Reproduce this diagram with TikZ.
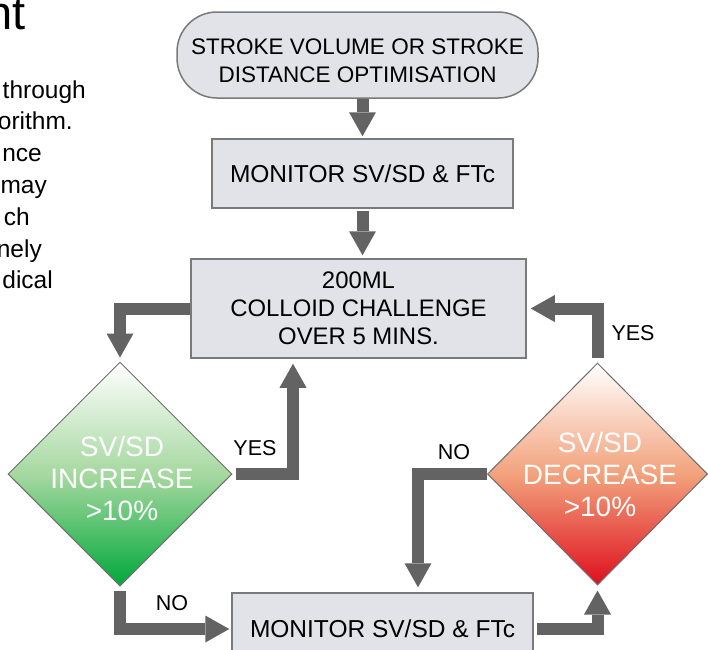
\documentclass[tikz,border=0pt]{standalone}
\usepackage{fontspec}
\setmainfont{Liberation Sans}
\usetikzlibrary{shapes.geometric,arrows.meta}
\definecolor{boxfill}{HTML}{E1E3E8}
\definecolor{boxline}{HTML}{7A7A7A}
\definecolor{diamline}{HTML}{6E6E6E}
\definecolor{arrowc}{HTML}{636363}
\definecolor{gbot}{HTML}{00A83A}
\definecolor{gmid}{HTML}{A6D8A0}
\definecolor{rbot}{HTML}{DE0F1E}
\definecolor{rmid}{HTML}{F2A27C}
\begin{document}
\begin{tikzpicture}[x=1pt,y=-1pt,
  box/.style={draw=boxline, line width=1.5pt, fill=boxfill, rectangle, inner sep=0, align=center},
  flow/.style={draw=arrowc, line width=12pt, -{Triangle[width=27pt,length=24pt,line width=0pt]}},
  lab/.style={inner sep=0, font=\fontsize{21.5}{24}\selectfont},
  dtext/.style={text=white, align=center, inner sep=0, font=\fontsize{28}{32}\selectfont},
  decision/.style={diamond, draw=diamline, line width=1pt, inner sep=0},
  body/.style={anchor=base east, inner sep=0, font=\fontsize{24.5}{28}\selectfont}]
\clip (0,0) rectangle (708,649);
\fill[white] (0,0) rectangle (708,649);

% left text fragments
\node[anchor=base east, inner sep=0, font=\fontsize{47}{50}\selectfont] (title) at (26,29) {nt};
\node[body] (l1) at (86,98) {through};
\node[body] (l2) at (73,129.8) {orithm.};
\node[body] (l3) at (42,161.6) {nce};
\node[body] (l4) at (47,193.4) {may};
\node[body] (l5) at (30,225.2) {ch};
\node[body] (l6) at (42,257) {nely};
\node[body] (l7) at (53,288.8) {dical};

% flowchart nodes
\node[box, rounded corners=40pt, minimum width=361pt, minimum height=86pt] (t1) at (357.5,55) {};
\node[inner sep=0, align=center, font=\fontsize{22.5}{28}\selectfont] (t1txt) at (357.5,60.5) {STROKE VOLUME OR STROKE\\DISTANCE OPTIMISATION};
\node[box, minimum width=301pt, minimum height=69pt, font=\fontsize{24.5}{28}\selectfont] (b2) at (362.5,173.5) {MONITOR SV/SD \& FTc};
\node[box, minimum width=335pt, minimum height=99pt, font=\fontsize{23.9}{28}\selectfont] (b3) at (358.5,308.5) {200ML\\COLLOID CHALLENGE\\OVER 5 MINS.};
\node[box, minimum width=301pt, minimum height=72pt, font=\fontsize{24.5}{28}\selectfont] (b4) at (382.5,629) {MONITOR SV/SD \& FTc};

\node[decision, minimum width=224pt, minimum height=224pt, top color=white, bottom color=gbot, middle color=gmid] (gd) at (120,474) {};
\node[dtext] (gdt) at (122,478) {SV/SD\\INCREASE\\>10\%};
\node[decision, minimum width=220pt, minimum height=222pt, top color=white, bottom color=rbot, middle color=rmid] (rd) at (597.5,474) {};
\node[dtext] (rdt) at (600,474.5) {SV/SD\\DECREASE\\>10\%};

% connectors
\draw[flow, shorten >=2pt] (t1.south -| b2.north) -- (b2.north);
\draw[flow, shorten <=2pt, shorten >=3pt] (b2.south) -- (b3.north -| b2.south);
\draw[flow, shorten >=4pt] (b3.west) -| (gd.north);
\draw[flow, shorten <=3pt, shorten >=5pt] (gd.east) -| ([xshift=-65.5pt]b3.south);
\draw[flow, shorten <=4pt, shorten >=2pt] (gd.south) |- (b4.west);
\draw[flow, shorten <=3pt, shorten >=5pt] (b4.east) -| (rd.south);
\draw[flow, shorten <=5pt, shorten >=4pt] (rd.north) |- (b3.east);
\draw[flow, shorten >=5pt] (rd.west) -| ([xshift=35.5pt]b4.north);

% labels
\node[lab] (yes1) at (255,448) {YES};
\node[lab] (no1) at (172,603) {NO};
\node[lab] (no2) at (454,452) {NO};
\node[lab] (yes2) at (633,333) {YES};
\end{tikzpicture}
\end{document}
